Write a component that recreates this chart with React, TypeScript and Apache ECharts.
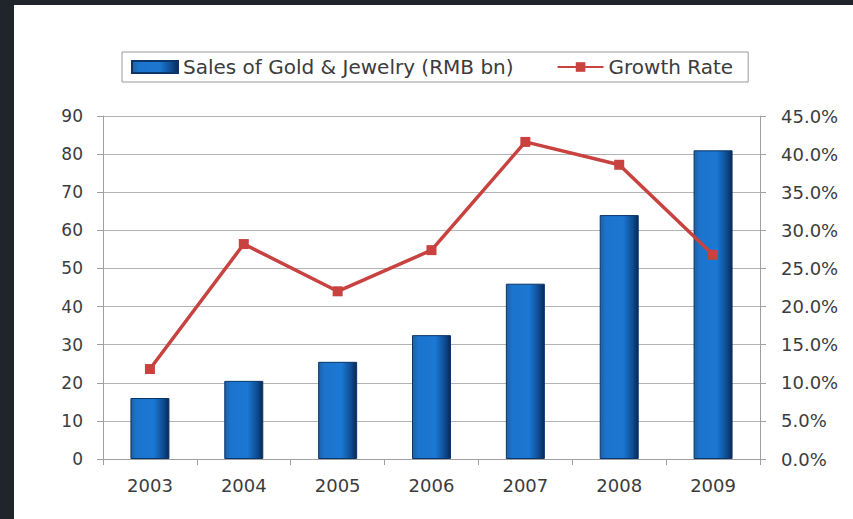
import React, { useEffect, useRef } from "react";
import * as echarts from "echarts";

const years = ["2003", "2004", "2005", "2006", "2007", "2008", "2009"];
const sales = [16, 20.5, 25.5, 32.5, 46, 64, 81];
const growth = [11.8, 28.2, 22.0, 27.4, 41.6, 38.6, 26.8];
const leftTicks = [0, 10, 20, 30, 40, 50, 60, 70, 80, 90];

const FONT = "DejaVu Sans";
const TEXT = "#3c3c3c";

export default function App() {
  const ref = useRef<HTMLDivElement>(null);
  useEffect(() => {
    if (!ref.current) return;
    const chart = echarts.init(ref.current, undefined, { renderer: "svg" });
    const barGradient = new echarts.graphic.LinearGradient(0, 0, 1, 0, [
      { offset: 0, color: "#1f5fa6" },
      { offset: 0.15, color: "#1c74cc" },
      { offset: 0.6, color: "#1a78d4" },
      { offset: 0.85, color: "#0f4c92" },
      { offset: 1, color: "#062a55" },
    ]);
    chart.setOption({
      animation: false,
      backgroundColor: "transparent",
      textStyle: { fontFamily: FONT },
      legend: {
        left: 122,
        top: 52,
        borderColor: "#9a9a9a",
        borderWidth: 1,
        padding: [5, 15, 5, 9],
        itemGap: 43,
        itemWidth: 46,
        itemHeight: 12,
        textStyle: { fontFamily: FONT, fontSize: 20, color: TEXT },
        data: [
          { name: "Sales of Gold & Jewelry (RMB bn)", icon: "rect" },
          { name: "Growth Rate" },
        ],
      },
      grid: { left: 103, right: 93, top: 116, bottom: 60 },
      xAxis: {
        type: "category",
        data: years,
        axisLine: { lineStyle: { color: "#a0a0a0", width: 1 } },
        axisTick: { show: true, inside: false, length: 6, lineStyle: { color: "#a0a0a0" } },
        axisLabel: { fontFamily: FONT, fontSize: 18, color: TEXT, margin: 17 },
      },
      yAxis: [
        {
          type: "value",
          min: 0,
          max: 90,
          interval: 10,
          axisLine: { show: true, lineStyle: { color: "#a0a0a0" } },
          axisTick: { show: true, length: 6, lineStyle: { color: "#a0a0a0" } },
          splitLine: { show: true, lineStyle: { color: "#b4b4b4", width: 1 } },
          axisLabel: {
            fontFamily: FONT,
            fontSize: 17,
            color: TEXT,
            margin: 20,
            formatter: (v: number) => (leftTicks.includes(v) ? String(v) : ""),
          },
        },
        {
          type: "value",
          min: 0,
          max: 45,
          interval: 5,
          position: "right",
          axisLine: { show: true, lineStyle: { color: "#a0a0a0" } },
          axisTick: { show: true, length: 6, lineStyle: { color: "#a0a0a0" } },
          splitLine: { show: false },
          axisLabel: {
            fontFamily: FONT,
            fontSize: 18,
            color: TEXT,
            margin: 21,
            formatter: (v: number) => v.toFixed(1) + "%",
          },
        },
      ],
      series: [
        {
          name: "Sales of Gold & Jewelry (RMB bn)",
          type: "bar",
          data: sales,
          barWidth: 39,
          itemStyle: { color: barGradient, borderColor: "#0a3566", borderWidth: 1 },
        },
        {
          name: "Growth Rate",
          type: "line",
          yAxisIndex: 1,
          data: growth,
          symbol: "rect",
          symbolSize: 10,
          lineStyle: { color: "#c8423f", width: 3.5 },
          itemStyle: { color: "#c8423f" },
        },
      ],
    });
    return () => chart.dispose();
  }, []);
  return (
    <div style={{ position: "fixed", left: 0, top: 0, width: 853, height: 519, background: "#1f252b" }}>
      <div style={{ position: "absolute", left: 14, top: 5, width: 839, height: 514, background: "#ffffff" }} />
      <div ref={ref} style={{ position: "absolute", left: 0, top: 0, width: 853, height: 519 }} />
    </div>
  );
}
